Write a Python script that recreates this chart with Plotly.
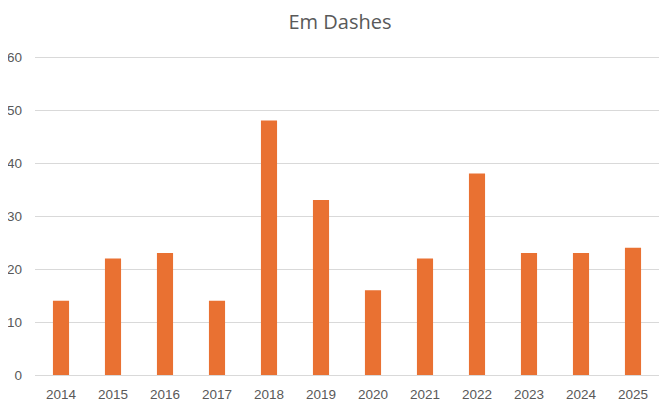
import plotly.graph_objects as go

years = ["2014", "2015", "2016", "2017", "2018", "2019", "2020", "2021", "2022", "2023", "2024", "2025"]
counts = [14, 22, 23, 14, 48, 33, 16, 22, 38, 23, 23, 24]
title_text = "Em Dashes"

fig = go.Figure(go.Bar(x=years, y=counts, marker=dict(color="#E97132", line=dict(width=0))))

# page body has an 8px margin, so the figure is sized/offset to compensate
fig.update_layout(
    width=664, height=405,
    margin=dict(l=27, r=13, t=47, b=38, autoexpand=False),
    paper_bgcolor="white", plot_bgcolor="white",
    bargap=0.69,
    showlegend=False,
    title=dict(text=title_text, x=0.5, xanchor="center", y=1 - 14 / 405, yanchor="middle",
               font=dict(family="Open Sans, Liberation Sans, Arial", size=20, color="#595959")),
    font=dict(family="Liberation Sans, Arial", size=13.5, color="#595959"),
)
fig.update_xaxes(showgrid=False, showline=True, linecolor="#D9D9D9", linewidth=1, automargin=False,
                 ticks="", ticklabelstandoff=7, tickfont=dict(size=13.5, color="#595959"))
fig.update_yaxes(range=[0, 60.38], tickvals=[0, 10, 20, 30, 40, 50, 60], showgrid=True,
                 gridcolor="#D9D9D9", gridwidth=1, automargin=False,
                 zeroline=False, showline=False, ticks="", ticklabelstandoff=12,
                 tickfont=dict(size=13.5, color="#595959"))

fig.write_html("out.html")
